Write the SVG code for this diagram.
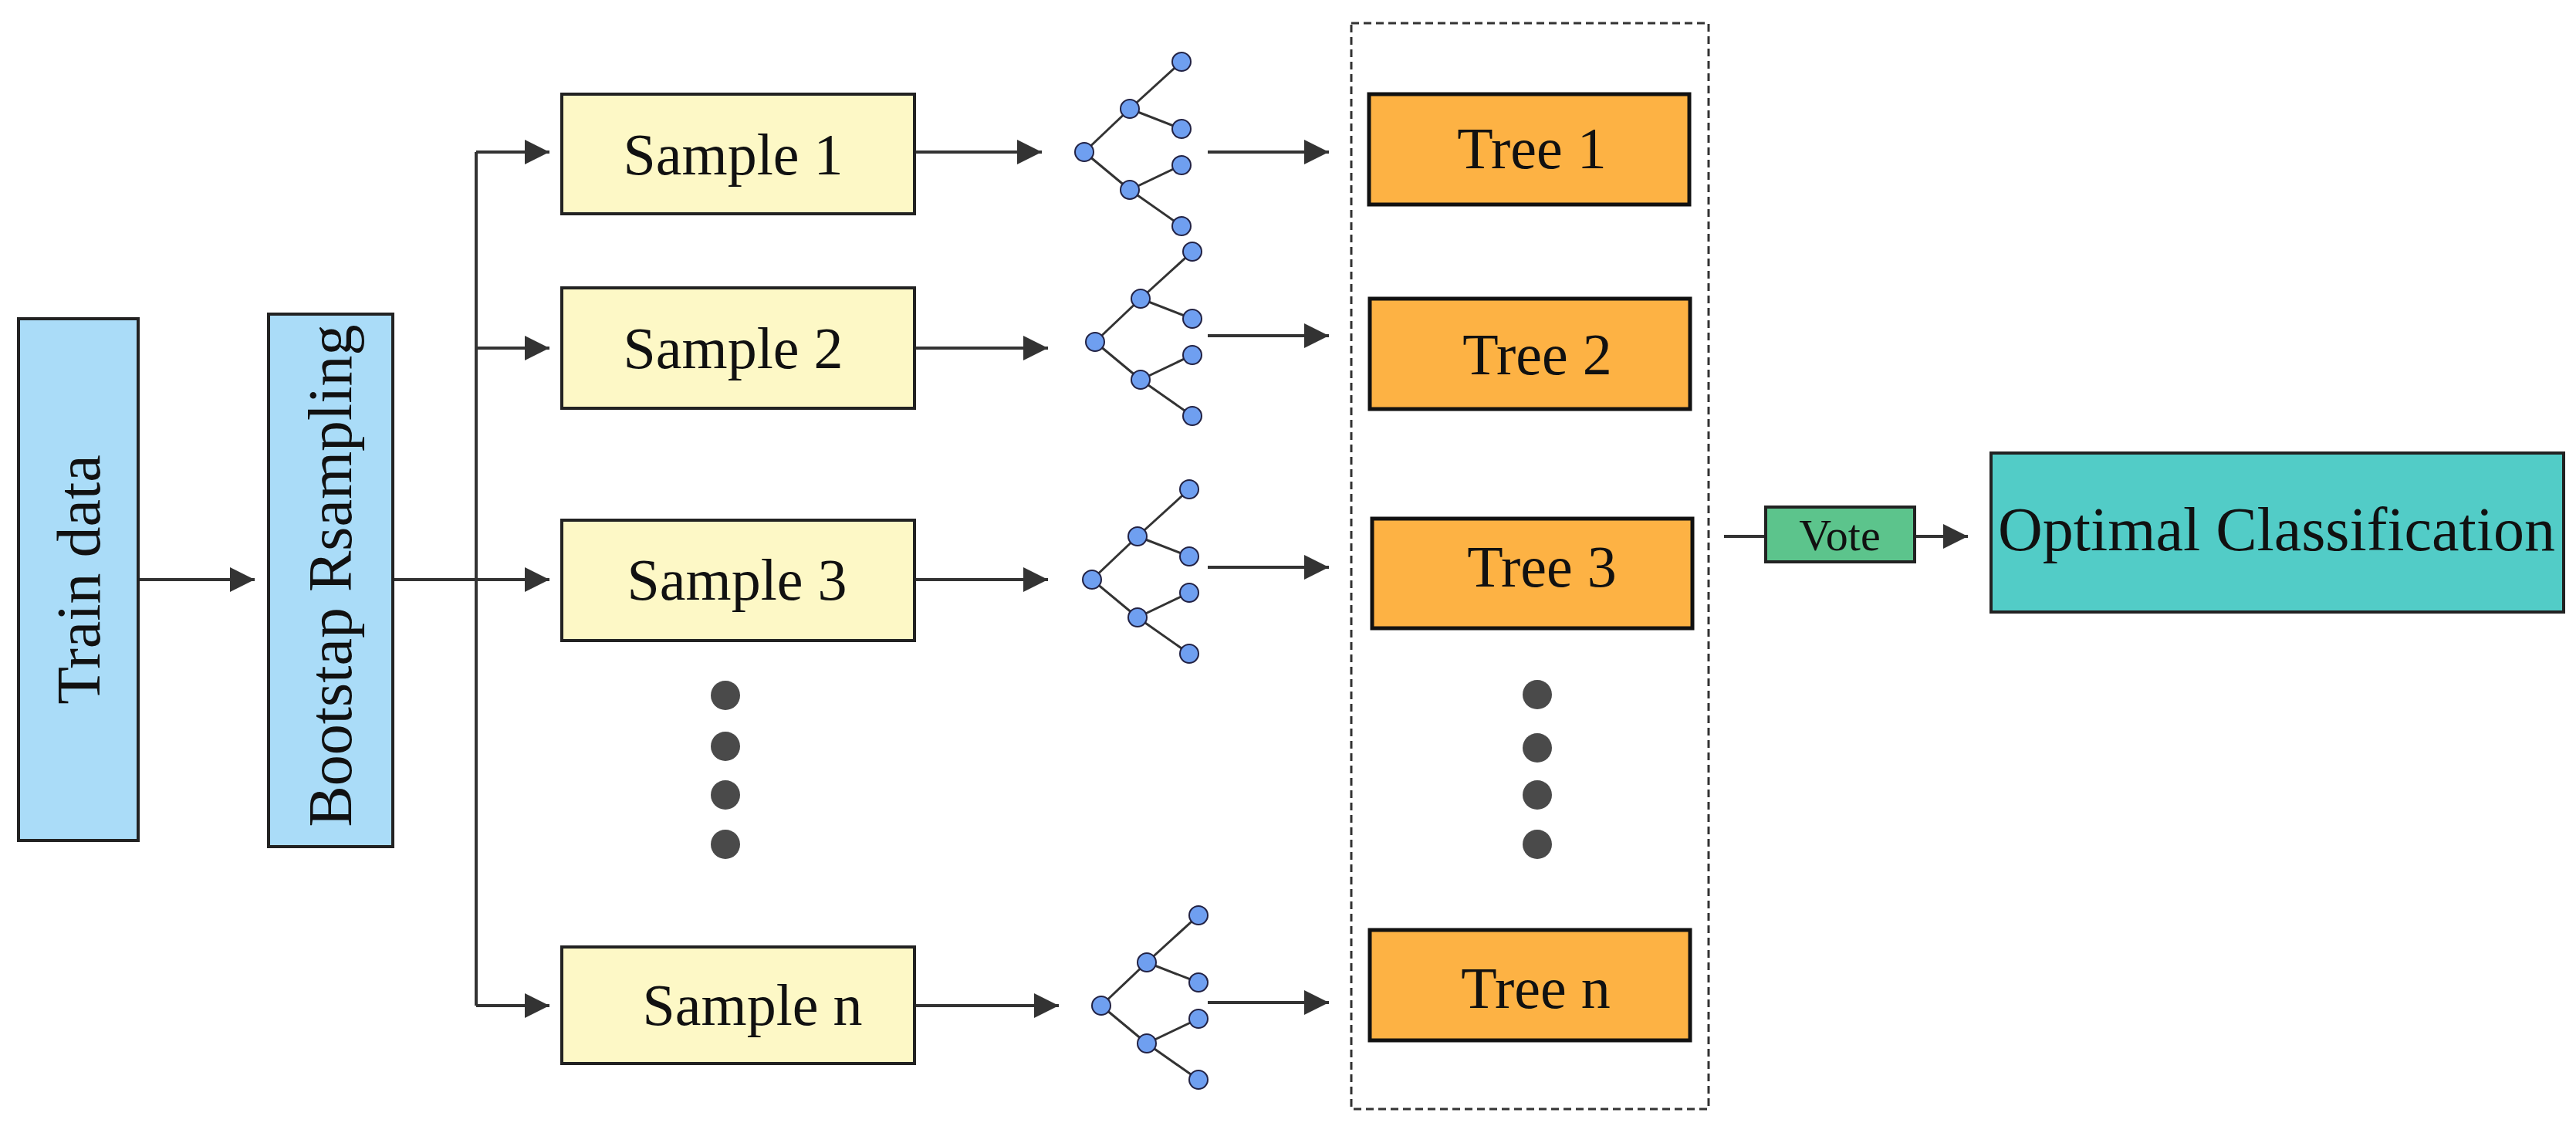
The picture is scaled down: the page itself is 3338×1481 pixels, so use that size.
<svg xmlns="http://www.w3.org/2000/svg" width="3338" height="1481" viewBox="0 0 3338 1481">
<style>
text{font-family:"Liberation Serif","Times New Roman",serif;fill:#111;text-anchor:middle;dominant-baseline:central}
.blue{fill:#aadcf8;stroke:#222;stroke-width:4}
.samp{fill:#fdf8c6;stroke:#222;stroke-width:4}
.tree{fill:#fdb244;stroke:#111;stroke-width:5}
.ln{stroke:#333;stroke-width:4;fill:none}
.arr{stroke:#333;stroke-width:4;fill:none;marker-end:url(#ah)}
.e{stroke:#333;stroke-width:3}
.n{fill:#6f9ff0;stroke:#224;stroke-width:2}
.dot{fill:#4a4a4a}
</style>
<defs>
<marker id="ah" viewBox="0 0 10 10" refX="10" refY="5" markerWidth="12" markerHeight="10" markerUnits="userSpaceOnUse" orient="auto"><path d="M0,0 L10,5 L0,10 z" fill="#333"/></marker>
<marker id="ah2" viewBox="0 0 10 10" refX="10" refY="5" markerWidth="10" markerHeight="8" orient="auto"><path d="M0,0 L10,5 L0,10 z" fill="#333"/></marker>
<g id="treeicon">
<line class="e" x1="0" y1="0" x2="59" y2="-56"/><line class="e" x1="0" y1="0" x2="59" y2="49"/>
<line class="e" x1="59" y1="-56" x2="126" y2="-117"/><line class="e" x1="59" y1="-56" x2="126" y2="-30"/>
<line class="e" x1="59" y1="49" x2="126" y2="17"/><line class="e" x1="59" y1="49" x2="126" y2="96"/>
<circle class="n" cx="0" cy="0" r="12"/><circle class="n" cx="59" cy="-56" r="12"/><circle class="n" cx="59" cy="49" r="12"/>
<circle class="n" cx="126" cy="-117" r="12"/><circle class="n" cx="126" cy="-30" r="12"/><circle class="n" cx="126" cy="17" r="12"/><circle class="n" cx="126" cy="96" r="12"/>
</g>
</defs>
<g id="connectors">
<line class="ln" x1="179" y1="751" x2="330" y2="751" style="marker-end:url(#ah2)"/>
<line class="ln" x1="509" y1="751" x2="617" y2="751"/>
<line class="ln" x1="617" y1="197" x2="617" y2="1303"/>
<line class="ln" x1="617" y1="197" x2="712" y2="197" style="marker-end:url(#ah2)"/>
<line class="ln" x1="617" y1="451" x2="712" y2="451" style="marker-end:url(#ah2)"/>
<line class="ln" x1="617" y1="751" x2="712" y2="751" style="marker-end:url(#ah2)"/>
<line class="ln" x1="617" y1="1303" x2="712" y2="1303" style="marker-end:url(#ah2)"/>
<line class="ln" x1="1185" y1="197" x2="1350" y2="197" style="marker-end:url(#ah2)"/>
<line class="ln" x1="1185" y1="451" x2="1358" y2="451" style="marker-end:url(#ah2)"/>
<line class="ln" x1="1185" y1="751" x2="1358" y2="751" style="marker-end:url(#ah2)"/>
<line class="ln" x1="1185" y1="1303" x2="1372" y2="1303" style="marker-end:url(#ah2)"/>
<line class="ln" x1="1565" y1="197" x2="1722" y2="197" style="marker-end:url(#ah2)"/>
<line class="ln" x1="1565" y1="435" x2="1722" y2="435" style="marker-end:url(#ah2)"/>
<line class="ln" x1="1565" y1="735" x2="1722" y2="735" style="marker-end:url(#ah2)"/>
<line class="ln" x1="1565" y1="1299" x2="1722" y2="1299" style="marker-end:url(#ah2)"/>
<line class="ln" x1="2234" y1="695" x2="2288" y2="695"/>
<line class="ln" x1="2481" y1="695" x2="2550" y2="695" style="marker-end:url(#ah2)"/>
</g>
<g id="train"><rect class="blue" x="24" y="413" width="155" height="676"/><text transform="translate(102,751) rotate(-90)" font-size="80">Train data</text></g>
<g id="bootstrap"><rect class="blue" x="348" y="407" width="161" height="690"/><text transform="translate(428,746) rotate(-90)" font-size="80">Bootstap Rsampling</text></g>
<g id="sample1"><rect class="samp" x="728" y="122" width="457" height="155"/><text x="950" y="200" font-size="76">Sample 1</text></g>
<g id="sample2"><rect class="samp" x="728" y="373" width="457" height="156"/><text x="950" y="451" font-size="76">Sample 2</text></g>
<g id="sample3"><rect class="samp" x="728" y="674" width="457" height="156"/><text x="955" y="751" font-size="76">Sample 3</text></g>
<g id="samplen"><rect class="samp" x="728" y="1227" width="457" height="151"/><text x="975" y="1302" font-size="76">Sample n</text></g>
<g id="dots1"><circle class="dot" cx="940" cy="901" r="19"/><circle class="dot" cx="940" cy="967" r="19"/><circle class="dot" cx="940" cy="1030" r="19"/><circle class="dot" cx="940" cy="1094" r="19"/></g>
<g id="tree-icon1"><use href="#treeicon" x="1405" y="197"/></g>
<g id="tree-icon2"><use href="#treeicon" x="1419" y="443"/></g>
<g id="tree-icon3"><use href="#treeicon" x="1415" y="751"/></g>
<g id="tree-iconn"><use href="#treeicon" x="1427" y="1303"/></g>
<g id="forest"><rect x="1751" y="30" width="463" height="1407" fill="none" stroke="#333" stroke-width="3" stroke-dasharray="10,6"/></g>
<g id="tree1"><rect class="tree" x="1774" y="122" width="415" height="143"/><text x="1985" y="192" font-size="76">Tree 1</text></g>
<g id="tree2"><rect class="tree" x="1775" y="387" width="415" height="143"/><text x="1992" y="459" font-size="76">Tree 2</text></g>
<g id="tree3"><rect class="tree" x="1778" y="672" width="415" height="142"/><text x="1998" y="734" font-size="76">Tree 3</text></g>
<g id="dots2"><circle class="dot" cx="1992" cy="900" r="19"/><circle class="dot" cx="1992" cy="969" r="19"/><circle class="dot" cx="1992" cy="1030" r="19"/><circle class="dot" cx="1992" cy="1094" r="19"/></g>
<g id="treen"><rect class="tree" x="1775" y="1205" width="415" height="143"/><text x="1990" y="1280" font-size="76">Tree n</text></g>
<g id="vote"><rect x="2288" y="657" width="193" height="71" fill="#5cc48c" stroke="#222" stroke-width="4"/><text x="2384" y="693" font-size="58">Vote</text></g>
<g id="optimal"><rect x="2580" y="587" width="742" height="206" fill="#52ccc7" stroke="#222" stroke-width="4"/><text x="2950" y="686" font-size="80" textLength="722" lengthAdjust="spacingAndGlyphs">Optimal Classification</text></g>
</svg>
